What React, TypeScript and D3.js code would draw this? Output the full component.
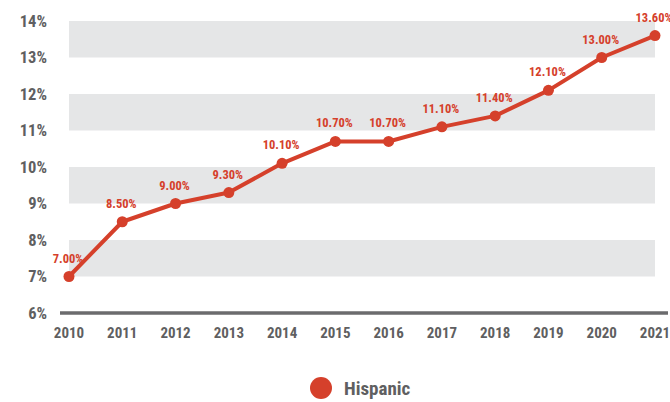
import React from "react";
import * as d3 from "d3";

const years = [2010, 2011, 2012, 2013, 2014, 2015, 2016, 2017, 2018, 2019, 2020, 2021];
const hispanic = [7.0, 8.5, 9.0, 9.3, 10.1, 10.7, 10.7, 11.1, 11.4, 12.1, 13.0, 13.6];
const yTicks = [6, 7, 8, 9, 10, 11, 12, 13, 14];
const bandStarts = [7, 9, 11, 13];
const seriesName = "Hispanic";

const W = 670;
const H = 402;
const RED = "#d5402b";
const GRAY_TEXT = "#5f5f61";
const FONT = "'Liberation Sans Narrow', 'Roboto Condensed', 'Arial Narrow', Roboto, sans-serif";

export default function App() {
  const x = d3.scaleLinear().domain([2010, 2021]).range([69, 655]);
  const y = d3.scaleLinear().domain([6, 14]).range([313, 21]);
  const line = d3
    .line<number>()
    .x((_, i) => x(years[i]))
    .y((d) => y(d));

  return (
    <svg
      width={W}
      height={H}
      style={{ position: "absolute", left: 0, top: 0, background: "#fff" }}
      fontFamily={FONT}
    >
      {bandStarts.map((b) => (
        <rect
          key={b}
          x={x(2010)}
          y={y(b + 1)}
          width={x(2021) - x(2010)}
          height={y(b) - y(b + 1)}
          fill="#e5e6e7"
        />
      ))}
      {yTicks.map((t) => (
        <text
          key={t}
          x={47}
          y={y(t)}
          dy="0.36em"
          textAnchor="end"
          fontSize={16.5}
          fontWeight="bold"
          fill={GRAY_TEXT}
        >
          {t}%
        </text>
      ))}
      <line x1={60} x2={668} y1={y(6)} y2={y(6)} stroke="#6b6b6d" strokeWidth={3.5} />
      {years.map((yr) => (
        <text
          key={yr}
          x={x(yr)}
          y={338}
          textAnchor="middle"
          fontSize={15}
          fontWeight="bold"
          fill={GRAY_TEXT}
        >
          {yr}
        </text>
      ))}
      <path d={line(hispanic) || ""} fill="none" stroke={RED} strokeWidth={4} strokeLinejoin="round" />
      {hispanic.map((v, i) => (
        <circle key={i} cx={x(years[i])} cy={y(v)} r={5.5} fill={RED} />
      ))}
      {hispanic.map((v, i) => (
        <text
          key={"l" + i}
          x={x(years[i]) - 1}
          y={y(v) - 14}
          textAnchor="middle"
          fontSize={12.5}
          fontWeight="bold"
          fill={RED}
        >
          {v.toFixed(2)}%
        </text>
      ))}
      <circle cx={321} cy={388} r={11} fill={RED} />
      <text x={344} y={395} fontSize={19} fontWeight="bold" fill={GRAY_TEXT}>
        {seriesName}
      </text>
    </svg>
  );
}
